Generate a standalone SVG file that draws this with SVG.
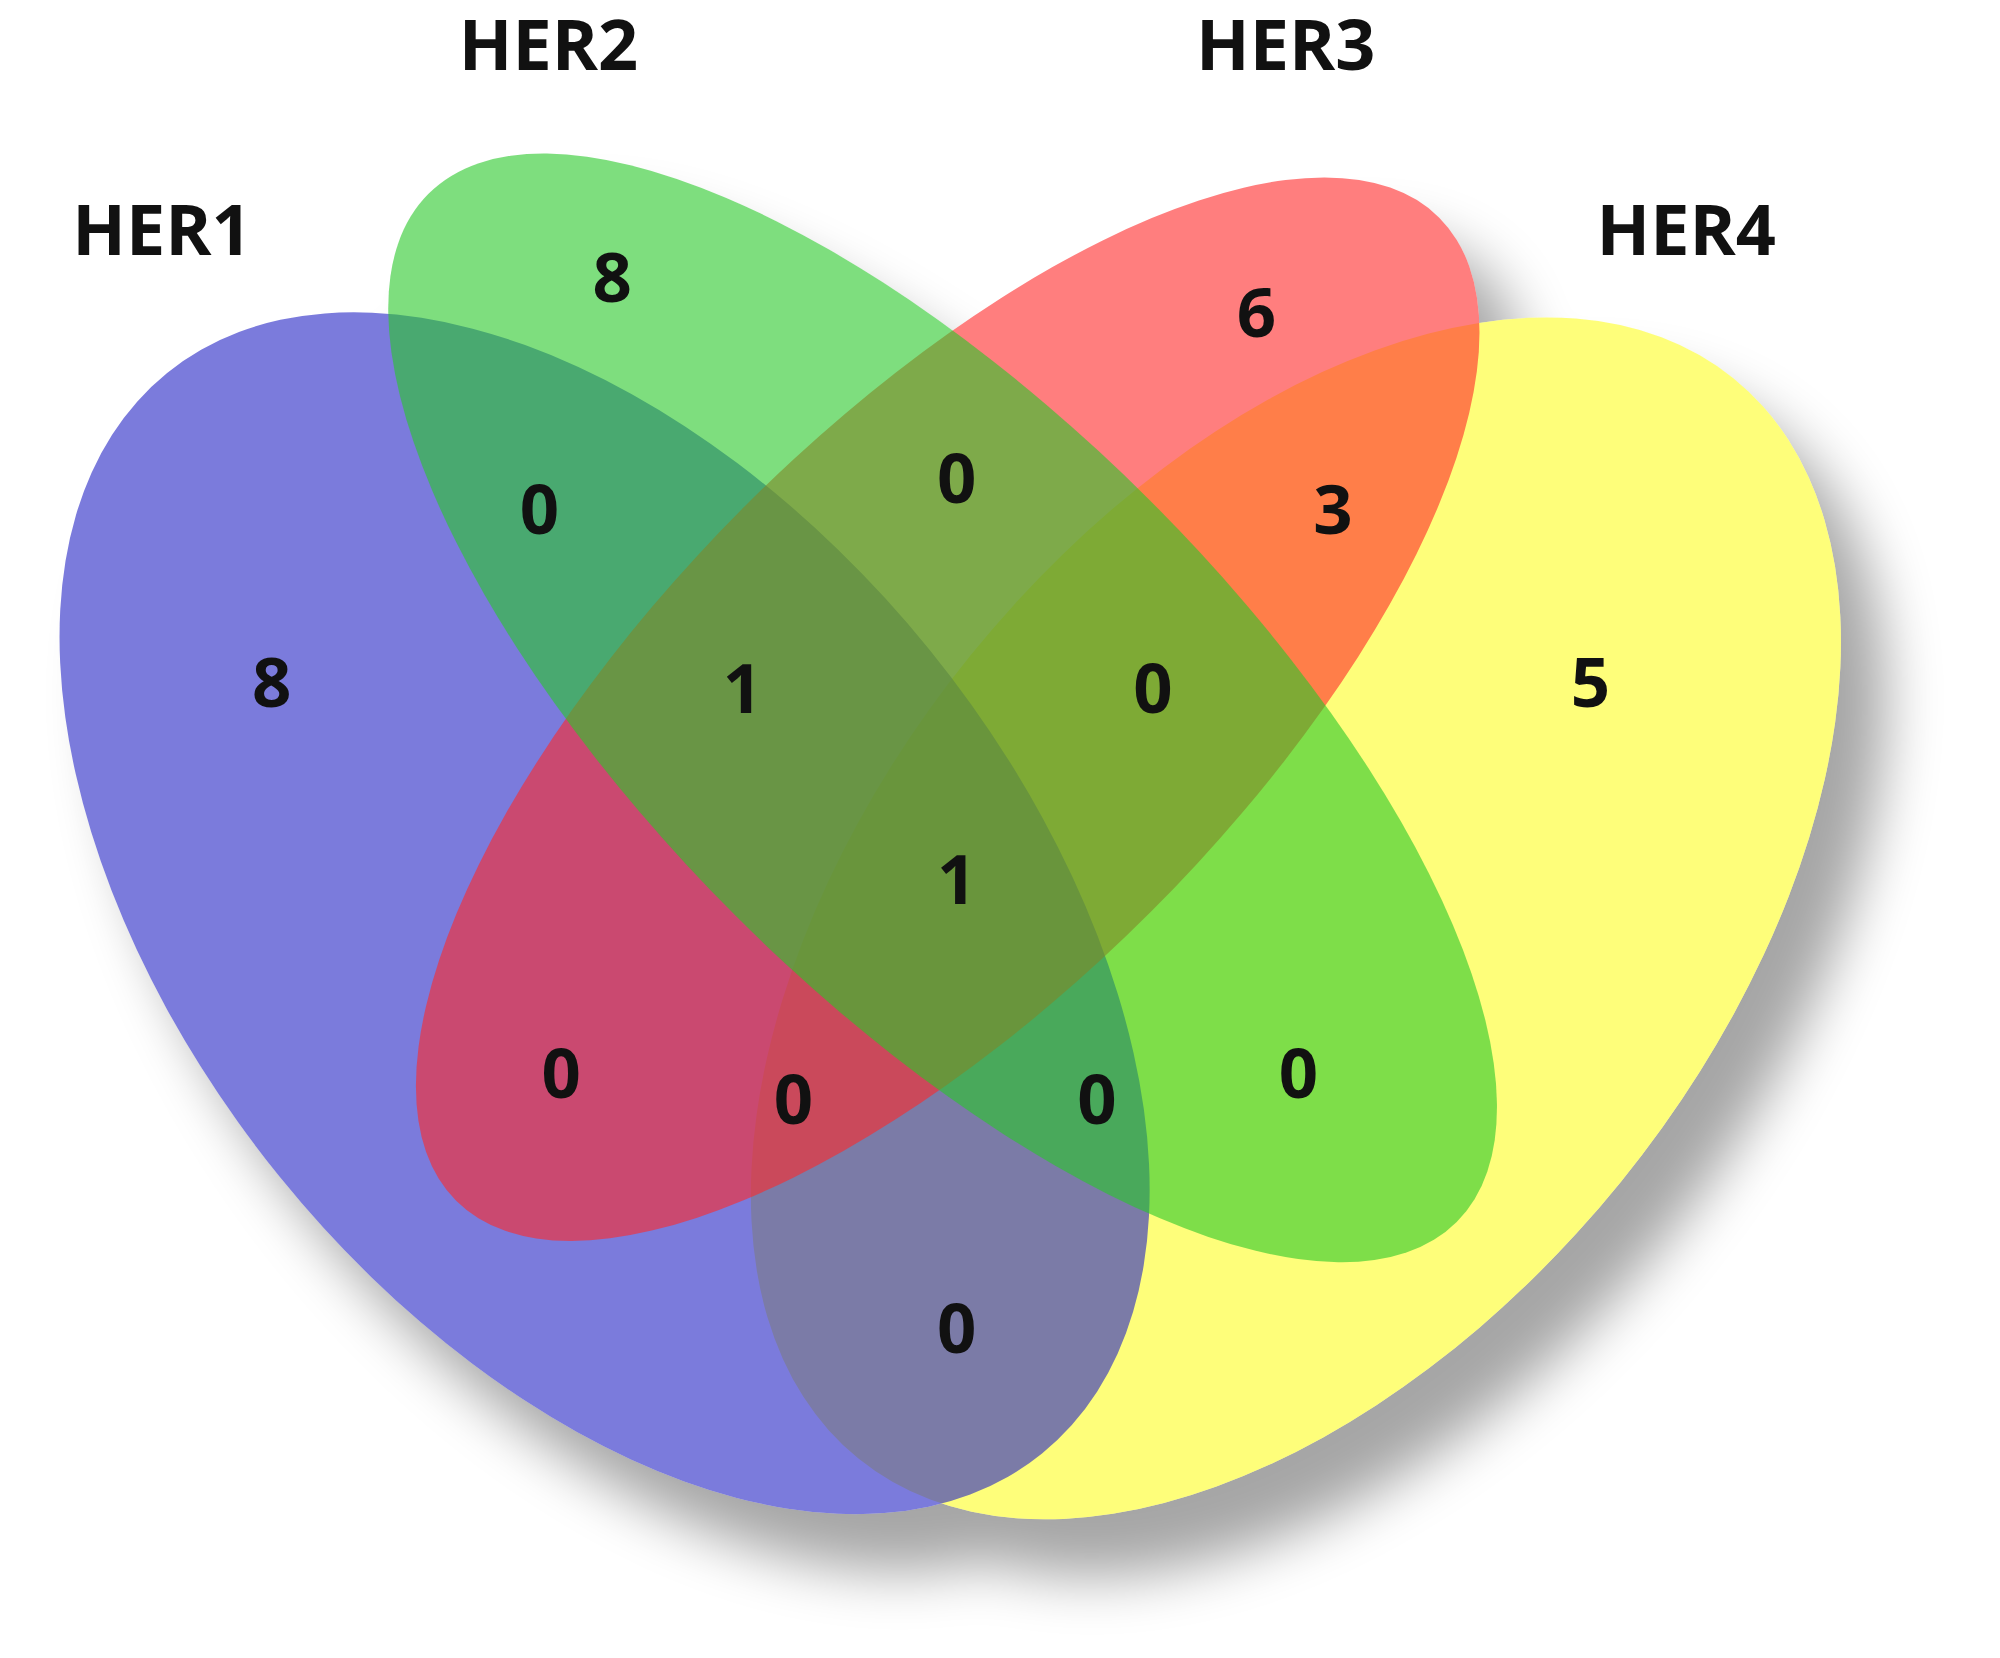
<svg xmlns="http://www.w3.org/2000/svg" width="2000" height="1658" viewBox="0 0 2000 1658">
<defs>
<style>
.l{font-family:"Open Sans","Liberation Sans",sans-serif;font-weight:bold;font-size:55px;fill:#111;text-anchor:middle}
.n{font-family:"Open Sans","Liberation Sans",sans-serif;font-weight:bold;font-size:54px;fill:#111;text-anchor:middle}
.e{fill-opacity:0.6}
</style>
<filter id="sh" x="-20%" y="-20%" width="140%" height="140%"><feGaussianBlur stdDeviation="22"/></filter>
<g id="shapes">
<ellipse cx="474" cy="716" rx="545" ry="328" transform="rotate(51 474 716)"/>
<ellipse cx="1016" cy="720" rx="545" ry="328" transform="rotate(-51 1016 720)"/>
<ellipse cx="739" cy="555" rx="570" ry="230" transform="rotate(45 739 555)"/>
<ellipse cx="743" cy="556" rx="545" ry="225" transform="rotate(-45 743 556)"/>
</g>
</defs>
<rect width="2000" height="1658" fill="#fff"/>
<g transform="scale(1.2755)">
<use href="#shapes" fill="#000" opacity="0.35" filter="url(#sh)" transform="translate(35,45)"/>
<use href="#shapes" fill="#fff"/>
<g id="HER4"><ellipse class="e" cx="1016" cy="720" rx="545" ry="328" transform="rotate(-51 1016 720)" fill="#fdfd21"/></g>
<g id="HER1"><ellipse class="e" cx="474" cy="716" rx="545" ry="328" transform="rotate(51 474 716)" fill="#2323c5"/></g>
<g id="HER3"><ellipse class="e" cx="743" cy="556" rx="545" ry="225" transform="rotate(-45 743 556)" fill="#ff2828"/></g>
<g id="HER2"><ellipse class="e" cx="739" cy="555" rx="570" ry="230" transform="rotate(45 739 555)" fill="#28c828"/></g>
<g id="labels">
<text class="l" x="127" y="200">HER1</text>
<text class="l" x="430" y="55">HER2</text>
<text class="l" x="1008" y="55">HER3</text>
<text class="l" x="1322" y="200">HER4</text>
</g>
<g id="counts">
<text class="n" x="480" y="237">8</text>
<text class="n" x="985" y="264">6</text>
<text class="n" x="423" y="419">0</text>
<text class="n" x="750" y="394">0</text>
<text class="n" x="1045" y="419">3</text>
<text class="n" x="213" y="554">8</text>
<text class="n" x="582" y="559">1</text>
<text class="n" x="904" y="559">0</text>
<text class="n" x="1247" y="554">5</text>
<text class="n" x="750" y="709">1</text>
<text class="n" x="440" y="861">0</text>
<text class="n" x="622" y="881">0</text>
<text class="n" x="860" y="881">0</text>
<text class="n" x="1018" y="861">0</text>
<text class="n" x="750" y="1061">0</text>
</g>
</g>
</svg>
